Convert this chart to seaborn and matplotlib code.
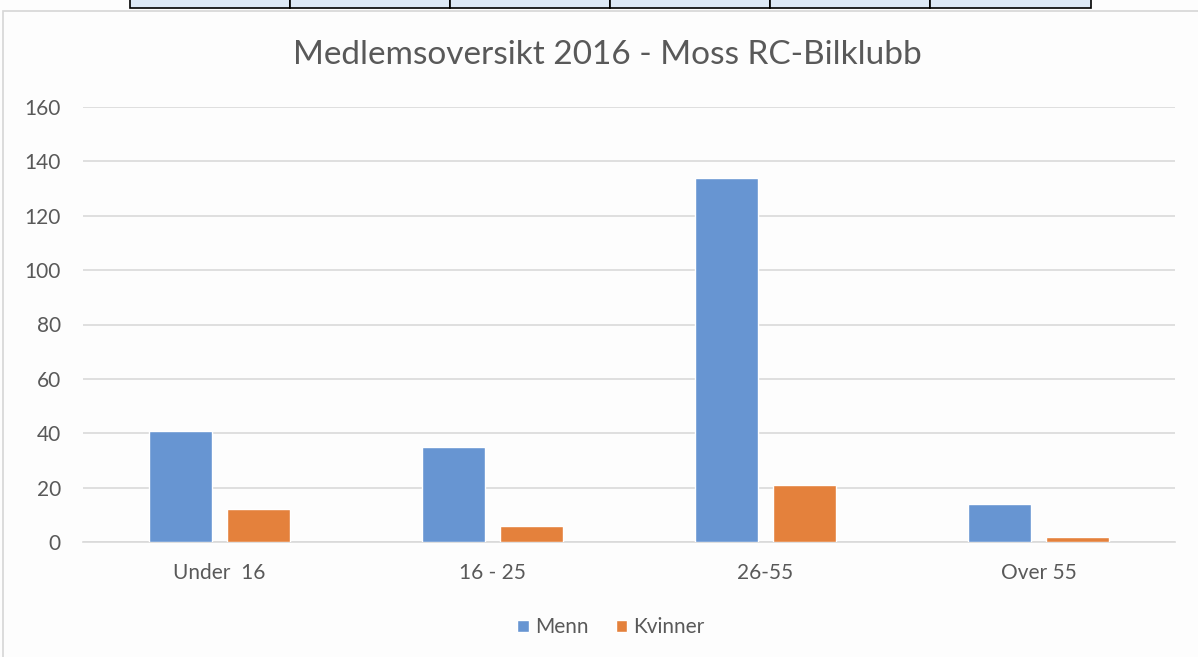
import pandas as pd
import numpy as np
import matplotlib.pyplot as plt
import seaborn as sns
from matplotlib.patches import Rectangle

sns.set_style('white')
plt.rcParams['font.family'] = ['Lato', 'DejaVu Sans']

# data
age_groups = ['Under  16', '16 - 25', '26-55', 'Over 55']
menn = [41, 35, 134, 14]
kvinner = [12, 6, 21, 2]
series = ['Menn', 'Kvinner']
colors = ['#6795d2', '#e4813c']
title = 'Medlemsoversikt 2016 - Moss RC-Bilklubb'

df = pd.DataFrame({
    'group': age_groups * 2,
    'kjonn': [series[0]] * len(age_groups) + [series[1]] * len(age_groups),
    'antall': menn + kvinner,
})

fig = plt.figure(figsize=(11.98, 6.57), dpi=100)
fig.patch.set_facecolor('#fdfdfd')

# chart frame and the spreadsheet row peeking in above it
fig.patches.append(Rectangle((3 / 1198, -0.01), 1.0, 1 - 11 / 657 + 0.01,
                             transform=fig.transFigure, fill=False,
                             edgecolor='#d6d6d6', linewidth=1.2))
cell_edges = [130, 290, 450, 610, 770, 930, 1091]
for x0, x1 in zip(cell_edges[:-1], cell_edges[1:]):
    fig.patches.append(Rectangle((x0 / 1198, 1 - 8 / 657), (x1 - x0) / 1198, 8 / 657 + 0.01,
                                 transform=fig.transFigure, facecolor='#dde9f6',
                                 edgecolor='black', linewidth=1.2))

ax = fig.add_axes([83 / 1198, 1 - 542 / 657, (1175 - 83) / 1198, (542 - 107) / 657])
ax.set_facecolor('#fdfdfd')

sns.barplot(data=df, x='group', y='antall', hue='kjonn', palette=colors,
            width=0.57, gap=0.2, ax=ax, saturation=1, errorbar=None, zorder=3)

ax.set_ylim(0, 160)
ax.set_yticks(np.arange(0, 161, 20))
ax.set_xlim(-0.5, len(age_groups) - 0.5)
ax.grid(axis='y', color='#d9d9d9', linewidth=1.2, zorder=0)
ax.set_axisbelow(True)
for s in ['top', 'right', 'left']:
    ax.spines[s].set_visible(False)
ax.spines['bottom'].set_color('#d9d9d9')
ax.spines['bottom'].set_linewidth(1.2)
ax.tick_params(axis='both', length=0, labelsize=15, colors='#595959')
ax.tick_params(axis='x', pad=15)
ax.tick_params(axis='y', pad=16)
ax.set_xlabel('')
ax.set_ylabel('')

fig.text(607 / 1198, 1 - 55 / 657, title, ha='center', va='center',
         fontsize=24, color='#595959')

sns.move_legend(ax, 'upper center', bbox_to_anchor=(0.4835, -0.13), ncol=2,
                frameon=False, title=None, fontsize=15, handlelength=0.55,
                handleheight=0.55, handletextpad=0.3, columnspacing=1.3)
for t in ax.get_legend().get_texts():
    t.set_color('#595959')

fig.savefig('out.png', dpi=100, facecolor=fig.get_facecolor())
